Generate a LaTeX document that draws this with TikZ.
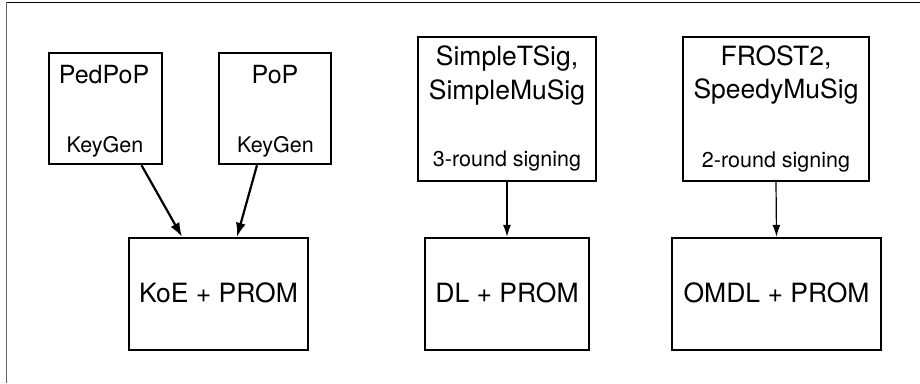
\documentclass[tikz,border=0pt]{standalone}
\usepackage{fontspec}
\setmainfont{TeX Gyre Heros}
\usetikzlibrary{arrows.meta}
\begin{document}
\begin{tikzpicture}[x=1pt,y=-1pt,
  box/.style={draw, line width=2.4pt, inner sep=0pt},
  txt/.style={anchor=base, inner sep=0pt},
  big/.style={font=\fontsize{26.5}{30}\selectfont},
  mid/.style={font=\fontsize{25}{30}\selectfont},
  small/.style={font=\fontsize{21.5}{25}\selectfont},
  thickarrow/.style={line width=2.2pt, -{Latex[length=14pt,width=10pt]}},
  thinarrow/.style={line width=1.2pt, -{Latex[length=12pt,width=8pt]}}]
\useasboundingbox (0,0) rectangle (920,383);
% frame edges
\draw[line width=1pt] (6,2) -- (920,2);
\draw[line width=1.5pt, black!60] (6.5,2) -- (6.5,383);

% boxes
\node[box, minimum width=113pt, minimum height=111pt] (pedpop) at (105.5,108.5) {};
\node[box, minimum width=112pt, minimum height=111pt] (pop) at (275,108.5) {};
\node[box, minimum width=179pt, minimum height=112pt] (koe) at (218.5,294) {};
\node[box, minimum width=178pt, minimum height=144pt] (simple) at (507,109) {};
\node[box, minimum width=164pt, minimum height=112pt] (dl) at (507,294) {};
\node[box, minimum width=186pt, minimum height=144pt] (frost) at (776,109) {};
\node[box, minimum width=209pt, minimum height=112pt] (omdl) at (776.5,294) {};

% labels
\node[txt, mid] (t1) at (104,83) {PedPoP};
\node[txt, small] (t2) at (105,152) {KeyGen};
\node[txt, mid] (t3) at (275,83) {PoP};
\node[txt, small] (t4) at (275.5,152) {KeyGen};
\node[txt, big] (t5) at (218.5,302) {KoE + PROM};
\node[txt, big] (t6) at (507,65) {SimpleTSig,};
\node[txt, big] (t7) at (507,99) {SimpleMuSig};
\node[txt, small] (t8) at (507,166) {3-round signing};
\node[txt, big] (t9) at (507,302) {DL + PROM};
\node[txt, big] (t10) at (776,65) {FROST2,};
\node[txt, big] (t11) at (776,98) {SpeedyMuSig};
\node[txt, small] (t12) at (776,167) {2-round signing};
\node[txt, big] (t13) at (776.5,302) {OMDL + PROM};

% connectors
\draw[thickarrow] ([xshift=36pt]pedpop.south) -- ([xshift=-36.5pt]koe.north);
\draw[thickarrow] ([xshift=-18pt]pop.south) -- ([xshift=18.5pt]koe.north);
\draw[thinarrow] (simple.south) -- (dl.north);
\draw[thinarrow] (frost.south) -- (omdl.north);
\end{tikzpicture}
\end{document}
